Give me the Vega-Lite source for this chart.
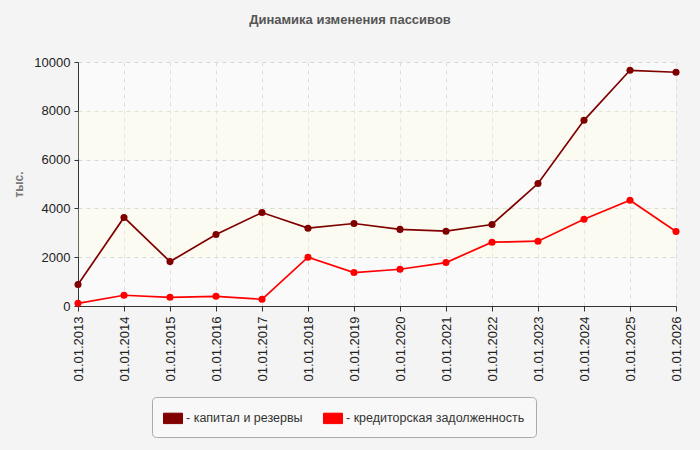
{
  "$schema": "https://vega.github.io/schema/vega-lite/v6.json",
  "autosize": {"type": "none"},
  "width": 598,
  "height": 244,
  "padding": {"left": 78, "top": 62, "right": 24, "bottom": 144},
  "background": "#f4f4f4",
  "title": {
    "text": "Динамика изменения пассивов",
    "font": "Liberation Sans",
    "fontSize": 13,
    "fontWeight": "bold",
    "color": "#555555",
    "anchor": "middle",
    "dx": -27,
    "offset": 29
  },
  "config": {
    "view": {"fill": "#fafafa", "stroke": null},
    "font": "Liberation Sans"
  },
  "layer": [
    {
      "data": {"values": [{"band": "2000-4000"}]},
      "mark": {"type": "rect", "fill": "#ffffd8", "fillOpacity": 0.25, "strokeWidth": 0},
      "encoding": {"y": {"datum": 2000, "type": "quantitative"}, "y2": {"datum": 4000}}
    },
    {
      "data": {"values": [{"band": "6000-8000"}]},
      "mark": {"type": "rect", "fill": "#ffffd8", "fillOpacity": 0.25, "strokeWidth": 0},
      "encoding": {"y": {"datum": 6000, "type": "quantitative"}, "y2": {"datum": 8000}}
    },
    {
      "data": {
        "values": [
          {"date": "01.01.2013", "series": "- капитал и резервы", "value": 880},
          {"date": "01.01.2014", "series": "- капитал и резервы", "value": 3630},
          {"date": "01.01.2015", "series": "- капитал и резервы", "value": 1820},
          {"date": "01.01.2016", "series": "- капитал и резервы", "value": 2930},
          {"date": "01.01.2017", "series": "- капитал и резервы", "value": 3830},
          {"date": "01.01.2018", "series": "- капитал и резервы", "value": 3190},
          {"date": "01.01.2019", "series": "- капитал и резервы", "value": 3380},
          {"date": "01.01.2020", "series": "- капитал и резервы", "value": 3140},
          {"date": "01.01.2021", "series": "- капитал и резервы", "value": 3065},
          {"date": "01.01.2022", "series": "- капитал и резервы", "value": 3340},
          {"date": "01.01.2023", "series": "- капитал и резервы", "value": 5020},
          {"date": "01.01.2024", "series": "- капитал и резервы", "value": 7610},
          {"date": "01.01.2025", "series": "- капитал и резервы", "value": 9660},
          {"date": "01.01.2026", "series": "- капитал и резервы", "value": 9580},
          {"date": "01.01.2013", "series": "- кредиторская задолженность", "value": 110},
          {"date": "01.01.2014", "series": "- кредиторская задолженность", "value": 440},
          {"date": "01.01.2015", "series": "- кредиторская задолженность", "value": 357},
          {"date": "01.01.2016", "series": "- кредиторская задолженность", "value": 398},
          {"date": "01.01.2017", "series": "- кредиторская задолженность", "value": 275},
          {"date": "01.01.2018", "series": "- кредиторская задолженность", "value": 2000},
          {"date": "01.01.2019", "series": "- кредиторская задолженность", "value": 1370},
          {"date": "01.01.2020", "series": "- кредиторская задолженность", "value": 1506},
          {"date": "01.01.2021", "series": "- кредиторская задолженность", "value": 1780},
          {"date": "01.01.2022", "series": "- кредиторская задолженность", "value": 2614},
          {"date": "01.01.2023", "series": "- кредиторская задолженность", "value": 2655},
          {"date": "01.01.2024", "series": "- кредиторская задолженность", "value": 3558},
          {"date": "01.01.2025", "series": "- кредиторская задолженность", "value": 4337},
          {"date": "01.01.2026", "series": "- кредиторская задолженность", "value": 3053}
        ]
      },
      "mark": {"type": "line", "point": {"filled": true, "size": 50, "opacity": 1}, "strokeWidth": 1.7},
      "encoding": {
        "x": {
          "field": "date",
          "type": "ordinal",
          "scale": {"type": "point", "padding": 0},
          "axis": {
            "title": null,
            "labelAngle": -90,
            "labelFontSize": 13,
            "labelColor": "#222222",
            "labelPadding": 5,
            "domainColor": "#333333",
            "tickColor": "#333333",
            "tickSize": 5,
            "grid": true,
            "gridColor": "#dddddd",
            "gridDash": [4, 4]
          }
        },
        "y": {
          "field": "value",
          "type": "quantitative",
          "scale": {"domain": [0, 10000]},
          "axis": {
            "title": "тыс.",
            "titleFontSize": 12,
            "titleColor": "#777777",
            "titleFontWeight": "bold",
            "titlePadding": 8,
            "format": "d",
            "values": [0, 2000, 4000, 6000, 8000, 10000],
            "labelFontSize": 13,
            "labelColor": "#222222",
            "labelPadding": 4,
            "domainColor": "#333333",
            "tickColor": "#333333",
            "tickSize": 4,
            "grid": true,
            "gridColor": "#d8d8d8",
            "gridDash": [4, 4]
          }
        },
        "color": {
          "field": "series",
          "type": "nominal",
          "scale": {
            "domain": ["- капитал и резервы", "- кредиторская задолженность"],
            "range": ["#800000", "#ff0000"]
          },
          "legend": {
            "title": null,
            "orient": "none",
            "direction": "horizontal",
            "legendX": 74,
            "legendY": 335,
            "fillColor": "#f8f8f8",
            "strokeColor": "#aaaaaa",
            "cornerRadius": 4,
            "padding": 11,
            "labelFontSize": 12.5,
            "labelColor": "#333333",
            "labelLimit": 300,
            "labelOffset": 3,
            "columnPadding": 18,
            "symbolType": "M-1,-0.55H1V0.55H-1Z",
            "symbolSize": 360,
            "symbolStrokeWidth": 1,
            "symbolOpacity": 1
          }
        }
      }
    }
  ]
}
